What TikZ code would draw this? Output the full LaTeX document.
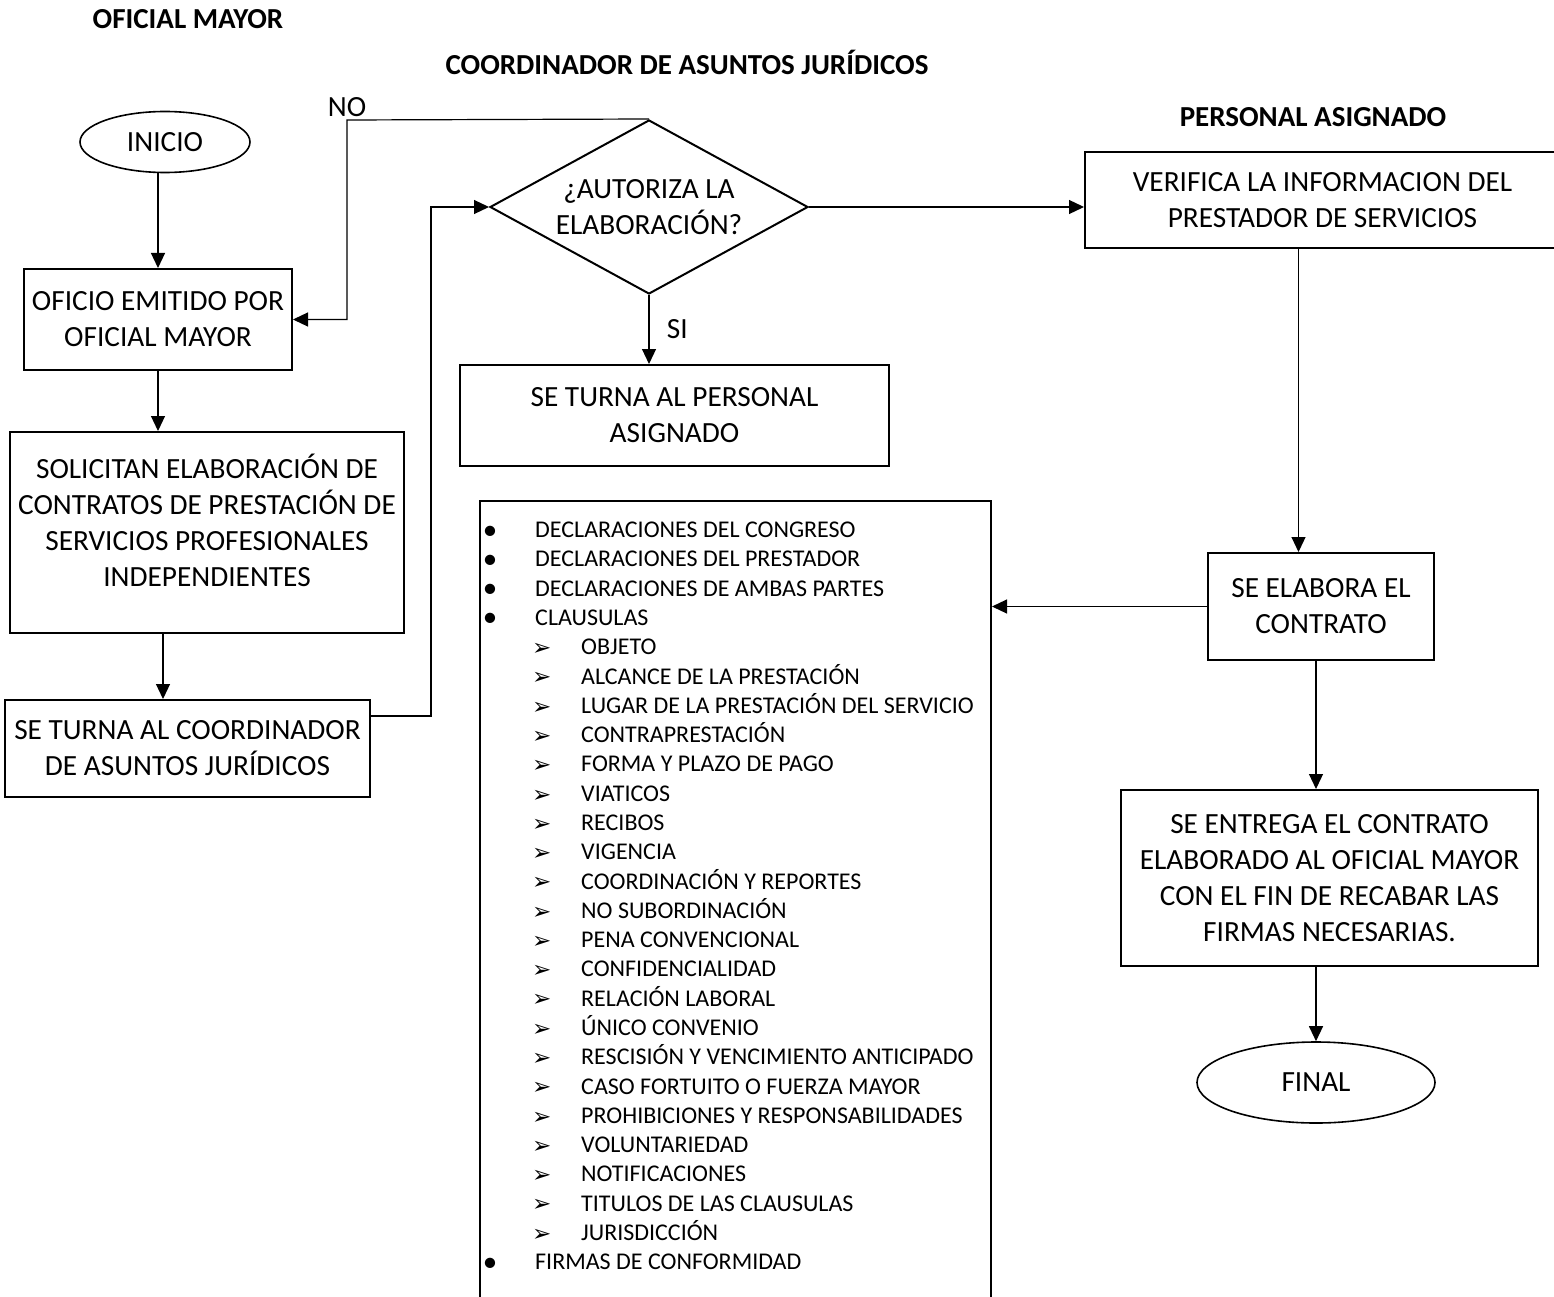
\documentclass[tikz,border=0pt]{standalone}
\usepackage{fontspec}
\setmainfont{Carlito}
\newfontfamily\simbolos{DejaVu Sans}
\usetikzlibrary{shapes.geometric,arrows.meta,positioning}

\tikzstyle{caja}=[draw, rectangle, line width=2pt, align=center, inner sep=0pt, font=\fontsize{29.3}{36}\selectfont]
\tikzstyle{terminal}=[draw, ellipse, line width=1.6pt, inner sep=0pt, font=\fontsize{29.3}{36}\selectfont]
\tikzstyle{decision}=[draw, diamond, aspect=1.83, line width=2pt, align=center, inner sep=0pt, font=\fontsize{29.3}{36}\selectfont]
\tikzstyle{titulo}=[font=\bfseries\fontsize{29}{34}\selectfont]
\tikzstyle{etiqueta}=[font=\fontsize{29.3}{36}\selectfont]
\tikzstyle{renglon}=[anchor=base west, inner sep=0pt, font=\fontsize{24}{29}\selectfont]
\tikzstyle{vineta}=[anchor=base, inner sep=0pt, text height=10pt, text depth=0pt, font=\fontsize{29}{29}\selectfont]
\tikzstyle{flecha}=[line width=1.2pt, -{Triangle[length=15pt,width=14pt]}]

\begin{document}
\begin{tikzpicture}[x=1pt, y=-1pt]

\useasboundingbox (0,0) rectangle (1554,1297);

% titulos
\node[titulo] (tOficial) at (188,19) {OFICIAL MAYOR};
\node[titulo] (tCoord) at (687,62) {COORDINADOR DE ASUNTOS JURÍDICOS};
\node[titulo] (tPersonal) at (1313,117) {PERSONAL ASIGNADO};

% oficial mayor
\node[terminal, minimum width=170, minimum height=61] (inicio) at (165,142) {INICIO};
\node[caja, minimum width=268, minimum height=101] (oficio) at (158,319.5) {OFICIO EMITIDO POR\\OFICIAL MAYOR};
\node[caja, minimum width=394, minimum height=201, text depth=24pt] (solicitan) at (207,532.5) {SOLICITAN ELABORACIÓN DE\\CONTRATOS DE PRESTACIÓN DE\\SERVICIOS PROFESIONALES\\INDEPENDIENTES};
\node[caja, minimum width=365, minimum height=97] (turnacoord) at (187.5,748.5) {SE TURNA AL COORDINADOR\\DE ASUNTOS JURÍDICOS};

% coordinador
\node[decision, minimum width=318, minimum height=174] (autoriza) at (649,207) {¿AUTORIZA LA\\ELABORACIÓN?};
\node[caja, minimum width=429, minimum height=101] (turnapers) at (674.5,415.5) {SE TURNA AL PERSONAL\\ASIGNADO};
\node[caja, minimum width=511, minimum height=809] (lista) at (735.5,905.5) {};

% personal asignado
\node[caja, minimum width=475, minimum height=96] (verifica) at (1322.5,200) {VERIFICA LA INFORMACION DEL\\PRESTADOR DE SERVICIOS};
\node[caja, minimum width=226, minimum height=107] (elabora) at (1321,606.5) {SE ELABORA EL\\CONTRATO};
\node[caja, minimum width=417, minimum height=176] (entrega) at (1329.5,878) {SE ENTREGA EL CONTRATO\\ELABORADO AL OFICIAL MAYOR\\CON EL FIN DE RECABAR LAS\\FIRMAS NECESARIAS.};
\node[terminal, minimum width=238, minimum height=81] (final) at (1316,1082.5) {FINAL};

% contenido del contrato
\foreach \t [count=\i from 0] in {DECLARACIONES DEL CONGRESO, DECLARACIONES DEL PRESTADOR, DECLARACIONES DE AMBAS PARTES, CLAUSULAS}
{
    \node[vineta] (bul\i) at (490,{539+29.28*\i}) {•};
    \node[renglon] (it\i) at (535,{537.7+29.28*\i}) {\t};
}
\foreach \t [count=\i from 4] in {OBJETO, ALCANCE DE LA PRESTACIÓN, LUGAR DE LA PRESTACIÓN DEL SERVICIO, CONTRAPRESTACIÓN, FORMA Y PLAZO DE PAGO, VIATICOS, RECIBOS, VIGENCIA, COORDINACIÓN Y REPORTES, NO SUBORDINACIÓN, PENA CONVENCIONAL, CONFIDENCIALIDAD, RELACIÓN LABORAL, ÚNICO CONVENIO, RESCISIÓN Y VENCIMIENTO ANTICIPADO, CASO FORTUITO O FUERZA MAYOR, PROHIBICIONES Y RESPONSABILIDADES, VOLUNTARIEDAD, NOTIFICACIONES, TITULOS DE LAS CLAUSULAS, JURISDICCIÓN}
{
    \node[renglon, font=\simbolos\fontsize{23}{29}\selectfont] (fl\i) at (532,{538.5+29.28*\i}) {➢};
    \node[renglon] (it\i) at (581,{537.7+29.28*\i}) {\t};
}
\node[vineta] (bul25) at (490,{539+29.28*25}) {•};
\node[renglon] (it25) at (535,{537.7+29.28*25}) {FIRMAS DE CONFORMIDAD};

% conectores
\coordinate (codoNO) at (347,120);
\coordinate (codoSI) at (431,716);
\node[etiqueta, anchor=south] (no) at (codoNO) {NO};

\draw[flecha] (oficio.north |- inicio.south) -- (oficio.north);
\draw[flecha] (oficio.south) -- (oficio.south |- solicitan.north);
\draw[flecha] ([xshift=-44pt]solicitan.south) -- ([xshift=-44pt]solicitan.south |- turnacoord.north);
\draw[flecha] (turnacoord.east |- codoSI) -- (codoSI) |- (autoriza.west);
\draw[flecha] (autoriza.north) -- (codoNO) |- (oficio.east);
\draw[flecha] (autoriza.south) -- node[etiqueta, anchor=west, xshift=14pt]{SI} (autoriza.south |- turnapers.north);
\draw[flecha] (autoriza.east) -- (autoriza.east -| verifica.west);
\draw[flecha] ([xshift=-24pt]verifica.south) -- ([xshift=-24pt]verifica.south |- elabora.north);
\draw[flecha] (elabora.west) -- (elabora.west -| lista.east);
\draw[flecha] (final.north |- elabora.south) -- (final.north |- entrega.north);
\draw[flecha] (final.north |- entrega.south) -- (final.north);

\end{tikzpicture}
\end{document}
